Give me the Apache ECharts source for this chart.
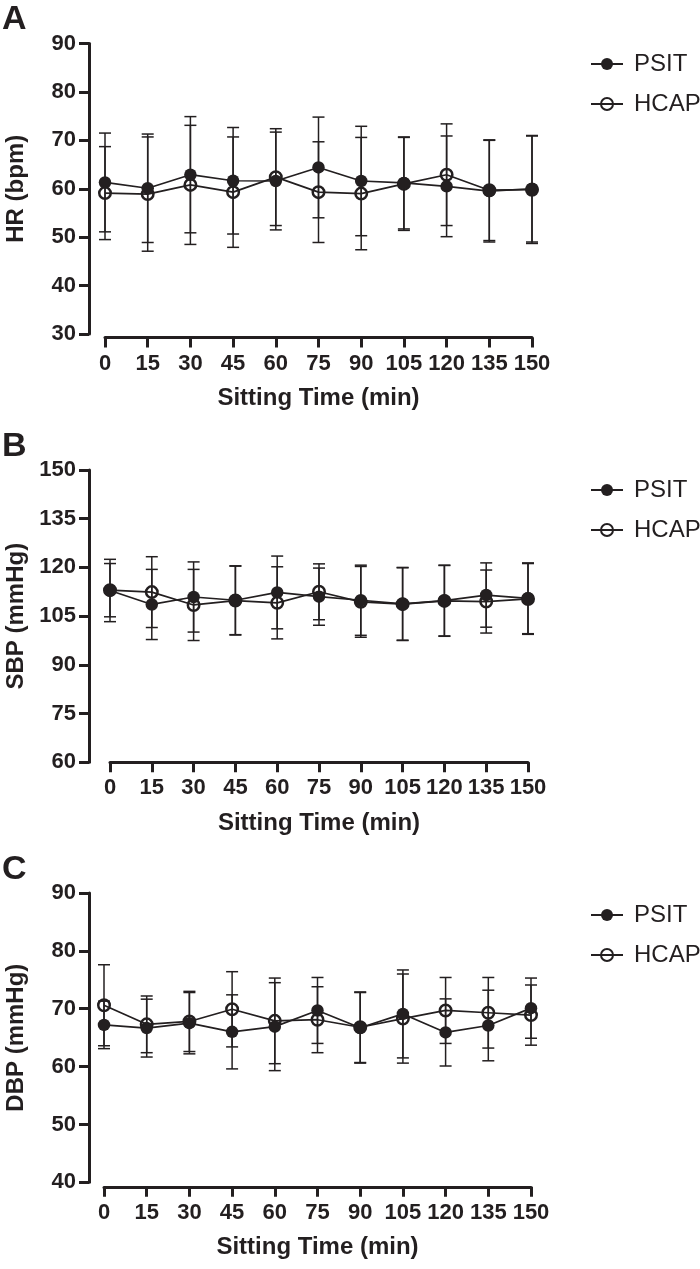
<!DOCTYPE html>
<html>
<head>
<meta charset="utf-8">
<script src="https://cdn.jsdelivr.net/npm/echarts@6/dist/echarts.min.js"></script>
<style>
html,body{margin:0;padding:0;background:#fff;}
#chart{width:700px;height:1269px;}
</style>
</head>
<body>
<div id="chart"></div>
<script>
// ---- data ----
const times = [0, 15, 30, 45, 60, 75, 90, 105, 120, 135, 150];
const groupNames = ['PSIT', 'HCAP'];
const panelLetters = ['A', 'B', 'C'];
const yTitles = ['HR (bpm)', 'SBP (mmHg)', 'DBP (mmHg)'];
const xTitle = 'Sitting Time (min)';

const hrPsitMean = [61.3, 60.1, 62.9, 61.65, 61.6, 64.4, 61.6, 61.2, 60.5, 59.5, 60.0];
const hrPsitSd   = [10.2, 11.2, 12.0, 11.0, 10.1, 10.4, 11.3, 9.5, 10.4, 10.5, 11.0];
const hrHcapMean = [59.1, 58.9, 60.8, 59.3, 62.4, 59.3, 59.0, 61.0, 62.9, 59.7, 59.8];
const hrHcapSd   = [9.6, 11.8, 12.3, 11.4, 10.0, 10.4, 11.6, 9.6, 10.5, 10.4, 11.1];

const sbpPsitMean = [112.9, 108.6, 110.9, 109.9, 112.3, 111.0, 109.9, 108.8, 109.8, 111.5, 110.5];
const sbpPsitSd   = [9.6, 10.8, 10.8, 10.6, 11.2, 8.8, 10.8, 11.2, 10.9, 9.9, 10.9];
const sbpHcapMean = [113.0, 112.4, 108.45, 109.8, 109.1, 112.5, 109.4, 108.7, 109.7, 109.5, 110.3];
const sbpHcapSd   = [8.2, 10.9, 10.95, 10.6, 11.1, 8.6, 10.9, 11.2, 10.9, 9.7, 10.9];

const dbpPsitMean = [67.2, 66.65, 67.5, 66.0, 66.9, 69.7, 66.7, 69.1, 65.9, 67.1, 70.1];
const dbpPsitSd   = [4.1, 5.0, 5.3, 6.4, 7.6, 5.7, 6.1, 7.6, 5.8, 6.1, 5.2];
const dbpHcapMean = [70.6, 67.3, 67.8, 69.9, 67.9, 68.1, 66.8, 68.3, 69.7, 69.3, 68.9];
const dbpHcapSd   = [7.0, 4.9, 5.2, 6.5, 7.4, 5.7, 6.1, 7.7, 5.7, 6.1, 5.2];

const yRanges = [[30, 90, 10], [60, 150, 15], [40, 90, 10]];

// ---- layout ----
const layout = [
  {top: 43.5, height: 290.5, xLeft: 105, xWidth: 427, xOffset: 3.5, letterY: 3, legendTop: 52},
  {top: 470, height: 292.3, xLeft: 110, xWidth: 418, xOffset: 0, letterY: 430, legendTop: 478},
  {top: 893, height: 289.3, xLeft: 104, xWidth: 427, xOffset: 4.5, letterY: 853, legendTop: 903}
];
const panelData = [
  [hrPsitMean, hrPsitSd, hrHcapMean, hrHcapSd],
  [sbpPsitMean, sbpPsitSd, sbpHcapMean, sbpHcapSd],
  [dbpPsitMean, dbpPsitSd, dbpHcapMean, dbpHcapSd]
];

const INK = '#231f20';
const FONT = '"Liberation Sans", Arial, Helvetica, sans-serif';
const Y_AXIS_X = 89;

function renderErr(params, api) {
  const x = api.value(0), lo = api.value(1), hi = api.value(2);
  const a = api.coord([x, lo]), b = api.coord([x, hi]);
  const hw = 6;
  const st = {stroke: INK, lineWidth: 1.5};
  return {type: 'group', children: [
    {type: 'line', shape: {x1: a[0], y1: a[1], x2: b[0], y2: b[1]}, style: st},
    {type: 'line', shape: {x1: a[0] - hw, y1: a[1], x2: a[0] + hw, y2: a[1]}, style: st},
    {type: 'line', shape: {x1: b[0] - hw, y1: b[1], x2: b[0] + hw, y2: b[1]}, style: st}
  ]};
}

const grid = [], xAxis = [], yAxis = [], series = [], legend = [], graphicEls = [];

layout.forEach((L, p) => {
  const [ymin, ymax, yint] = yRanges[p];
  grid.push({left: L.xLeft, width: L.xWidth, top: L.top, height: L.height,
    containLabel: false, outerBoundsMode: 'none'});
  grid.push({left: Y_AXIS_X, width: L.xLeft + L.xWidth - Y_AXIS_X, top: L.top, height: L.height,
    containLabel: false, outerBoundsMode: 'none'});
  const gMain = 2 * p, gY = 2 * p + 1;
  xAxis.push({
    gridIndex: gMain, type: 'value', min: 0, max: 150, interval: 15,
    offset: L.xOffset,
    axisLine: {show: true, onZero: false, lineStyle: {color: INK, width: 3}},
    axisTick: {show: true, length: 10, inside: false, lineStyle: {color: INK, width: 3}},
    axisLabel: {margin: 15, color: INK, fontSize: 22, fontWeight: 'bold', fontFamily: FONT},
    splitLine: {show: false},
    name: xTitle, nameLocation: 'middle', nameGap: 49,
    nameTextStyle: {color: INK, fontSize: 24, fontWeight: 'bold', fontFamily: FONT}
  });
  xAxis.push({gridIndex: gY, type: 'value', min: 0, max: 150, show: false});
  yAxis.push({gridIndex: gMain, type: 'value', min: ymin, max: ymax, interval: yint, show: false});
  yAxis.push({
    gridIndex: gY, type: 'value', min: ymin, max: ymax, interval: yint,
    axisLine: {show: true, onZero: false, lineStyle: {color: INK, width: 3}},
    axisTick: {show: true, length: 10, lineStyle: {color: INK, width: 3}},
    axisLabel: {margin: 13, color: INK, fontSize: 22, fontWeight: 'bold', fontFamily: FONT},
    splitLine: {show: false},
    name: yTitles[p], nameLocation: 'middle', nameGap: 61, nameRotate: 90,
    nameTextStyle: {color: INK, fontSize: 24, fontWeight: 'bold', fontFamily: FONT}
  });

  const [pm, ps, hm, hs] = panelData[p];
  const errData = (m, s) => times.map((t, i) => [t, m[i] - s[i], m[i] + s[i]]);
  series.push({
    name: 'HCAP SD', type: 'custom', xAxisIndex: gMain, yAxisIndex: gMain,
    renderItem: renderErr, encode: {x: 0, y: [1, 2]}, data: errData(hm, hs), z: 1, silent: true
  });
  series.push({
    name: 'PSIT SD', type: 'custom', xAxisIndex: gMain, yAxisIndex: gMain,
    renderItem: renderErr, encode: {x: 0, y: [1, 2]}, data: errData(pm, ps), z: 1, silent: true
  });
  series.push({
    name: groupNames[1], type: 'line', xAxisIndex: gMain, yAxisIndex: gMain,
    data: times.map((t, i) => [t, hm[i]]),
    symbol: 'circle', symbolSize: 11.5, showAllSymbol: true,
    lineStyle: {color: INK, width: 1.7},
    itemStyle: {color: 'rgba(255,255,255,0)', borderColor: INK, borderWidth: 2.5},
    z: 2, animation: false
  });
  series.push({
    name: groupNames[0], type: 'line', xAxisIndex: gMain, yAxisIndex: gMain,
    data: times.map((t, i) => [t, pm[i]]),
    symbol: 'circle', symbolSize: 12.5, showAllSymbol: true,
    lineStyle: {color: INK, width: 1.7},
    itemStyle: {color: INK, borderColor: INK, borderWidth: 0},
    z: 3, animation: false
  });

  legend.push({
    data: groupNames, orient: 'vertical', left: 590, top: L.legendTop, padding: 0,
    itemWidth: 32, itemHeight: 15, itemGap: 16, selectedMode: false,
    textStyle: {color: INK, fontSize: 24, fontFamily: FONT, padding: [0, 0, 0, 6]}
  });

  graphicEls.push({
    type: 'text', left: 2, top: L.letterY,
    style: {text: panelLetters[p], fontSize: 34, fontWeight: 'bold', fontFamily: FONT, fill: INK}
  });
});

const chart = echarts.init(document.getElementById('chart'), null, {renderer: 'canvas'});
chart.setOption({
  backgroundColor: '#fff',
  animation: false,
  grid, xAxis, yAxis, series, legend,
  graphic: graphicEls
});
</script>
</body>
</html>
